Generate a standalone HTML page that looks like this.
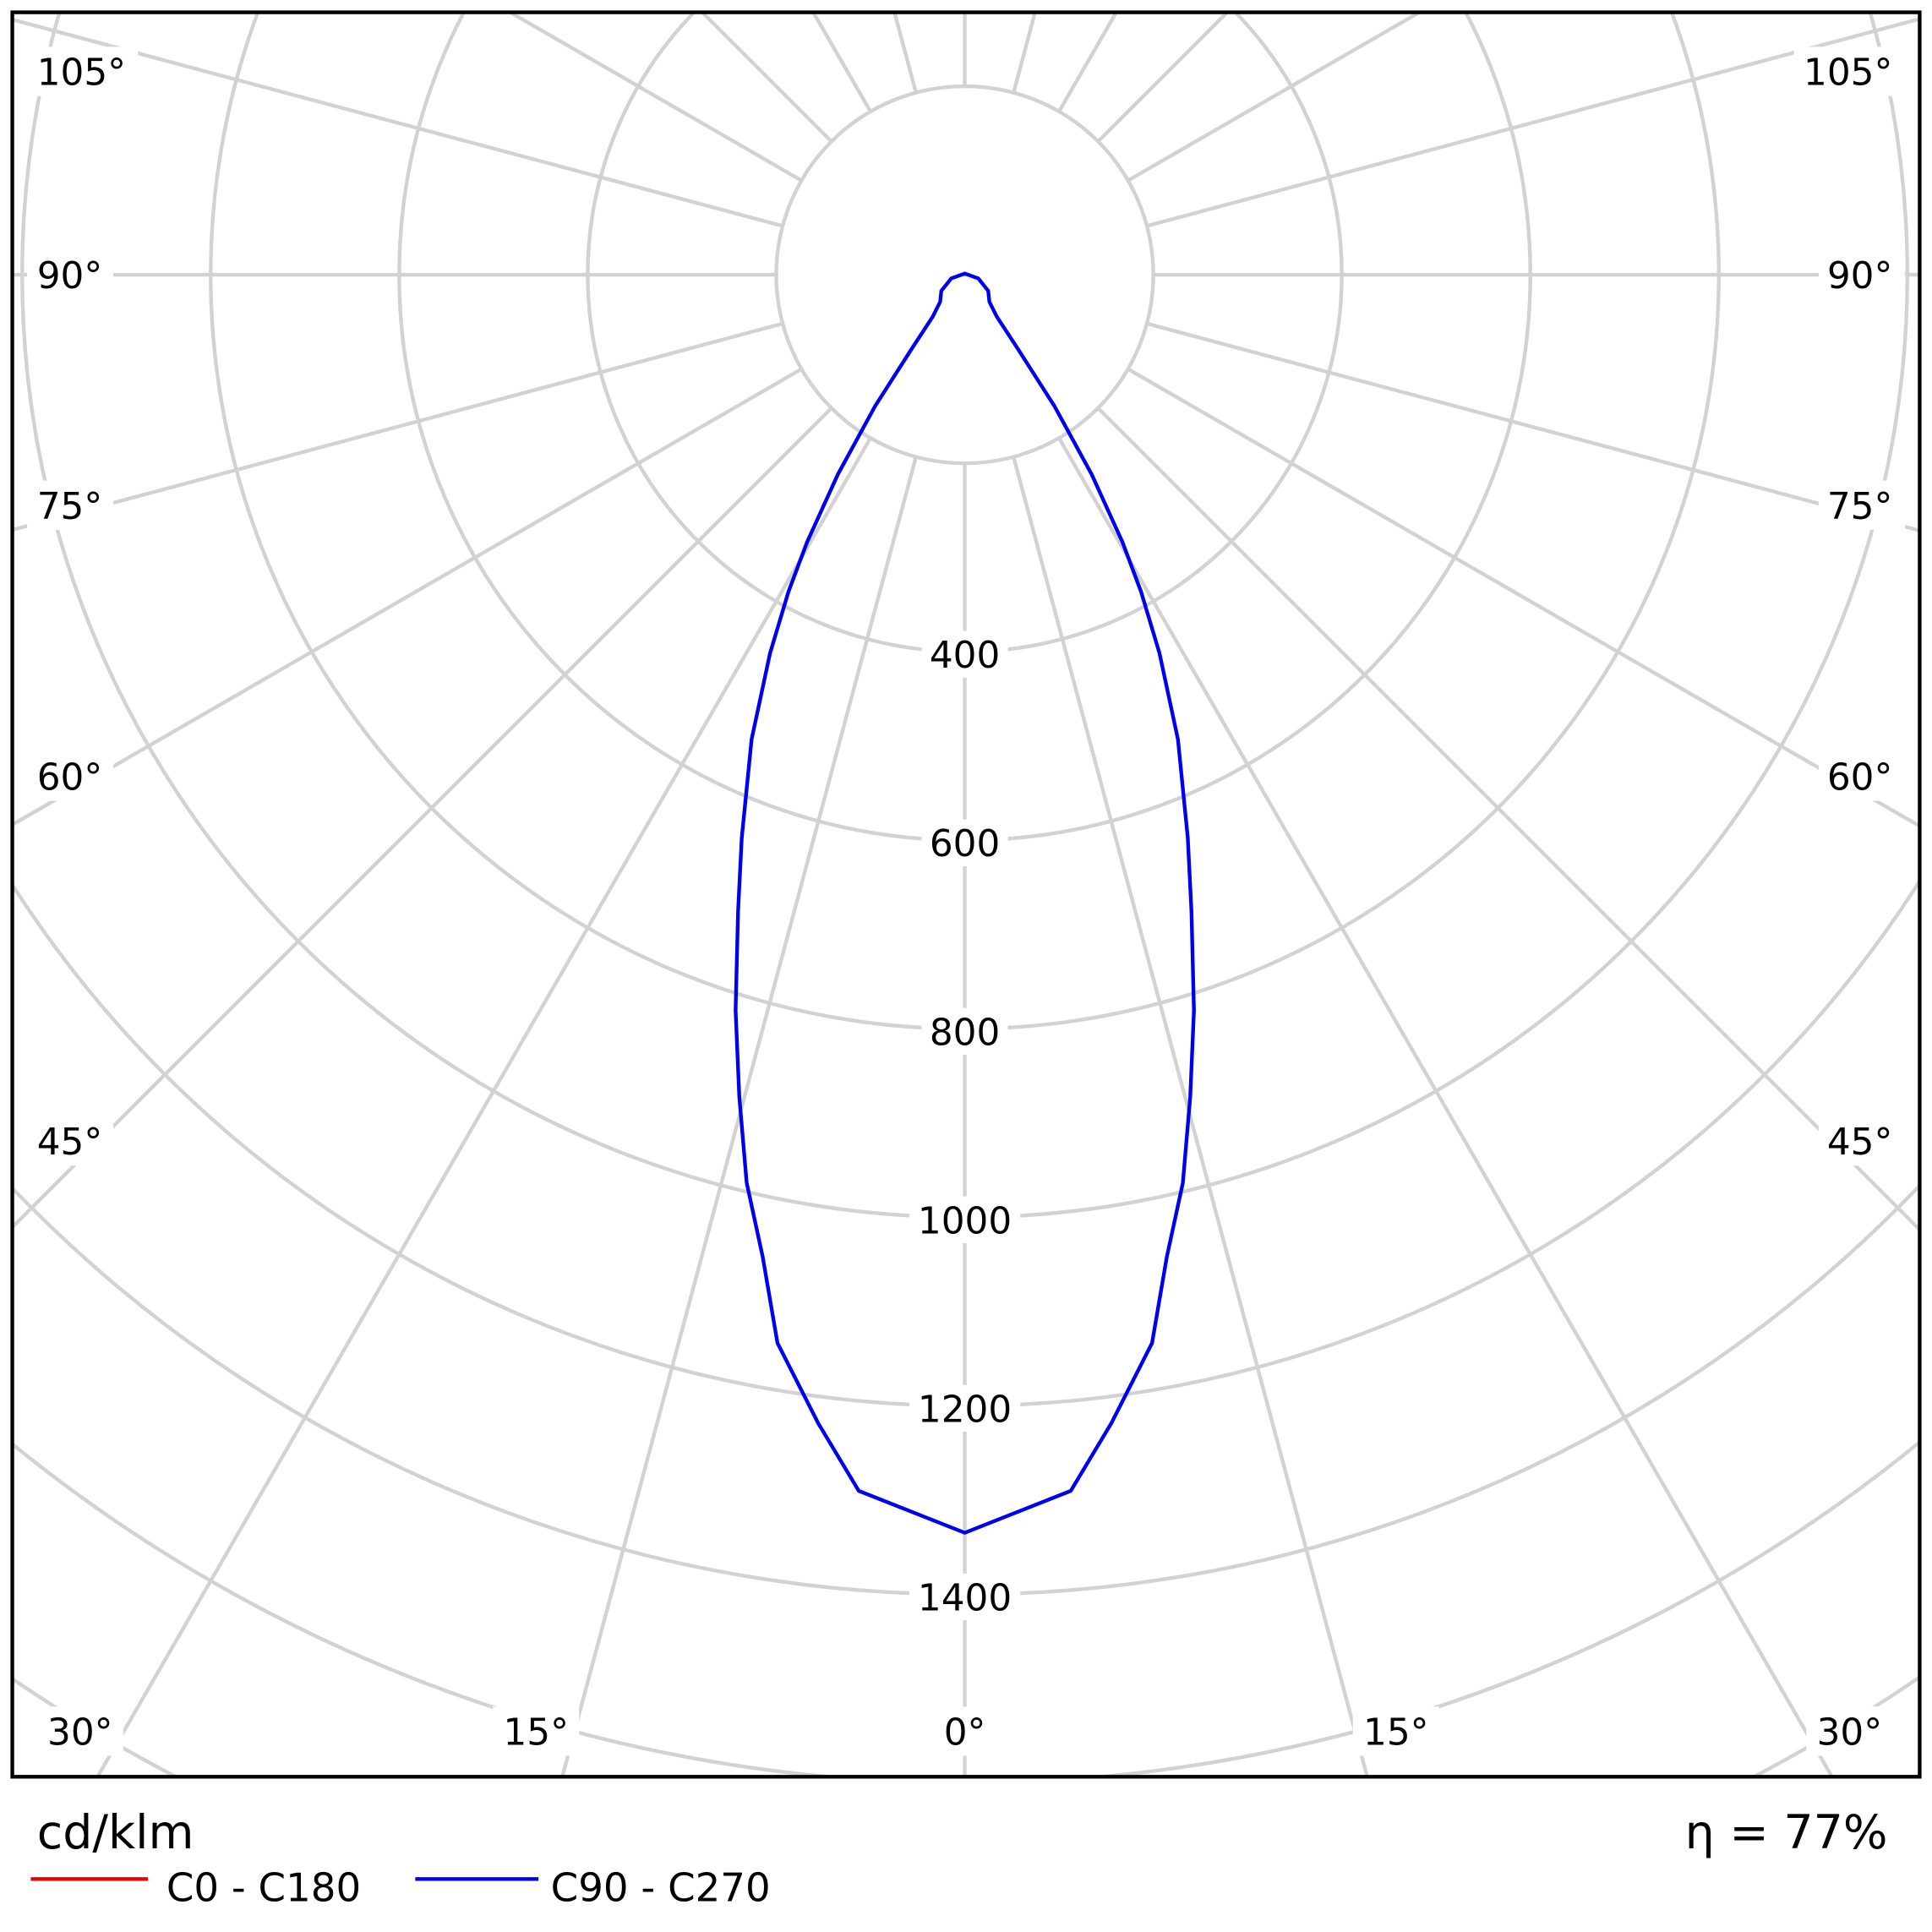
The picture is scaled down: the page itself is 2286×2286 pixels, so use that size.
<!DOCTYPE html>
<html><head><style>html,body{margin:0;padding:0;background:#fff;width:2286px;height:2286px;overflow:hidden}svg{display:block}</style></head>
<body>
<svg width="2286" height="2286" viewBox="0 0 1568 1568" xmlns="http://www.w3.org/2000/svg" font-family="'DejaVu Sans','Liberation Sans',sans-serif">
<defs><clipPath id="c"><rect x="10" y="10" width="1548" height="1432"/></clipPath></defs>
<rect width="1568" height="1568" fill="#fff"/>
<g clip-path="url(#c)" stroke="#d2d2d2" stroke-width="3" fill="none">
<circle cx="783" cy="223" r="153"/><circle cx="783" cy="223" r="306"/><circle cx="783" cy="223" r="459"/><circle cx="783" cy="223" r="612"/><circle cx="783" cy="223" r="765"/><circle cx="783" cy="223" r="918"/><circle cx="783" cy="223" r="1071"/><circle cx="783" cy="223" r="1224"/><circle cx="783" cy="223" r="1377"/><circle cx="783" cy="223" r="1530"/>
<path d="M783,376L783,2223 M743.4,370.8L265.4,2154.8 M822.6,370.8L1300.6,2154.8 M706.5,355.5L-217,1955 M859.5,355.5L1783,1955 M674.8,331.2L-631,1637 M891.2,331.2L2197,1637 M650.5,299.5L-949,1223 M915.5,299.5L2515,1223 M635.2,262.6L-1149,740.6 M930.8,262.6L2715,740.6 M630,223L-1217,223 M936,223L2783,223 M635.2,183.4L-1149,-294.6 M930.8,183.4L2715,-294.6 M650.5,146.5L-949,-777 M915.5,146.5L2515,-777 M674.8,114.8L-631,-1191 M891.2,114.8L2197,-1191 M706.5,90.5L-217,-1509 M859.5,90.5L1783,-1509 M743.4,75.2L265.4,-1708.8 M822.6,75.2L1300.6,-1708.8 M783,70L783,-1777"/>
</g>
<g fill="#fff">
<rect x="748" y="512" width="70" height="38"/><rect x="748" y="665" width="70" height="38"/><rect x="748" y="818" width="70" height="38"/><rect x="738" y="971" width="90" height="38"/><rect x="738" y="1124" width="90" height="38"/><rect x="738" y="1277" width="90" height="38"/>
<rect x="22" y="38" width="90" height="40"/><rect x="22" y="203" width="70" height="40"/><rect x="22" y="390" width="70" height="40"/><rect x="22" y="610" width="70" height="40"/><rect x="22" y="906" width="70" height="40"/>
<rect x="1456" y="38" width="90" height="40"/><rect x="1476" y="203" width="70" height="40"/><rect x="1476" y="390" width="70" height="40"/><rect x="1476" y="610" width="70" height="40"/><rect x="1476" y="906" width="70" height="40"/>
<rect x="30" y="1385" width="70" height="40"/><rect x="400" y="1385" width="70" height="40"/><rect x="758" y="1385" width="50" height="40"/><rect x="1098" y="1385" width="70" height="40"/><rect x="1466" y="1385" width="70" height="40"/>
</g>
<path fill="none" stroke="#0000ee" stroke-width="3" stroke-linejoin="round" d="M783,1244 L697,1210 L664,1155 L631,1090 L619,1020 L606,960 L600,890 L597,820 L599,740 L602,680 L610,600 L625,530 L640,480 L655,440 L680,385 L710,330 L740,283 L757,257 L763,245 L764,236 L772,226 L783,222 L794,226 L802,236 L803,245 L809,257 L826,283 L856,330 L886,385 L911,440 L926,480 L941,530 L956,600 L964,680 L967,740 L969,820 L966,890 L960,960 L947,1020 L935,1090 L902,1155 L869,1210 Z"/>
<rect x="10" y="10" width="1548" height="1432" fill="none" stroke="#000" stroke-width="3"/>
<g font-size="30" fill="#000" text-anchor="middle">
<text x="783" y="542">400</text><text x="783" y="695">600</text><text x="783" y="848">800</text><text x="783" y="1001">1000</text><text x="783" y="1154">1200</text><text x="783" y="1307">1400</text>
<text x="783" y="1416">0°</text><text x="435" y="1416">15°</text><text x="1133" y="1416">15°</text><text x="65" y="1416">30°</text><text x="1501" y="1416">30°</text>
</g>
<g font-size="30" fill="#000">
<text x="30" y="69">105°</text><text x="30" y="234">90°</text><text x="30" y="421">75°</text><text x="30" y="641">60°</text><text x="30" y="937">45°</text>
</g>
<g font-size="30" fill="#000" text-anchor="end">
<text x="1536" y="69">105°</text><text x="1536" y="234">90°</text><text x="1536" y="421">75°</text><text x="1536" y="641">60°</text><text x="1536" y="937">45°</text>
</g>
<text x="30" y="1500" font-size="38">cd/klm</text>
<text x="1532" y="1500" font-size="38" text-anchor="end">η = 77%</text>
<line x1="25" y1="1525" x2="120" y2="1525" stroke="#ee0000" stroke-width="3"/>
<text x="135" y="1543" font-size="32">C0 - C180</text>
<line x1="337" y1="1525" x2="437" y2="1525" stroke="#0000ee" stroke-width="3"/>
<text x="447" y="1543" font-size="32">C90 - C270</text>
</svg>
</body></html>
